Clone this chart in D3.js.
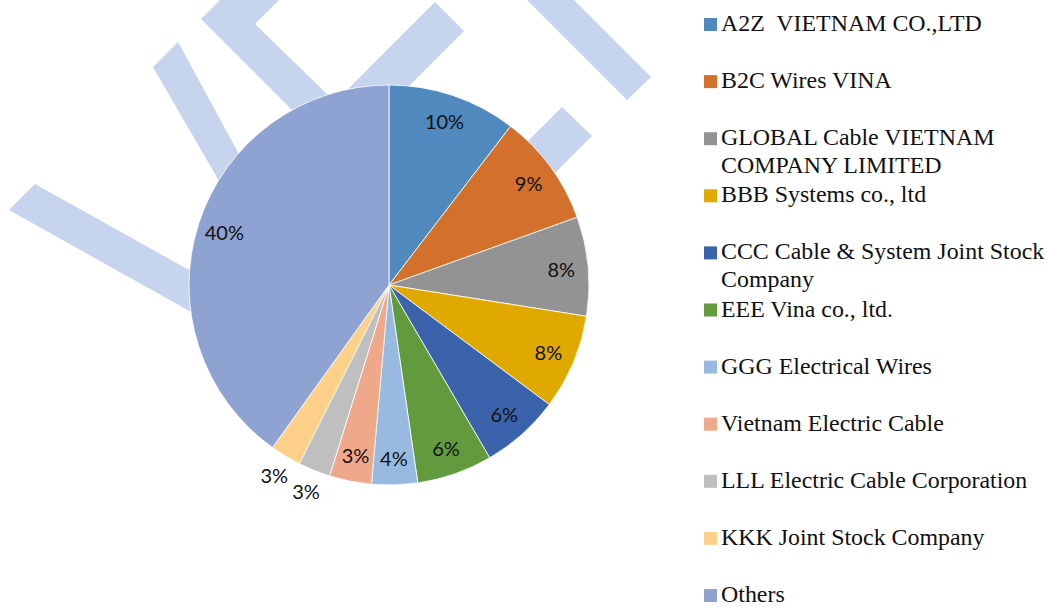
<!DOCTYPE html>
<html>
<head>
<meta charset="utf-8">
<script src="https://cdn.jsdelivr.net/npm/d3@7"></script>
<style>
  html, body { margin: 0; padding: 0; background: #fff; }
  svg { display: block; }
</style>
</head>
<body>
<svg id="chart" width="1047" height="607"></svg>
<script>
// ---------- data ----------
const categories = [
  "A2Z  VIETNAM CO.,LTD",
  "B2C Wires VINA",
  "GLOBAL Cable VIETNAM COMPANY LIMITED",
  "BBB Systems co., ltd",
  "CCC Cable & System Joint Stock Company",
  "EEE Vina co., ltd.",
  "GGG Electrical Wires",
  "Vietnam Electric Cable",
  "LLL Electric Cable Corporation",
  "KKK Joint Stock Company",
  "Others"
];
const shares = [10.4, 9.1, 8.0, 7.7, 6.4, 6.1, 3.7, 3.4, 2.6, 2.5, 40.1];
const colors = [
  "#4f89bd", "#d3702b", "#939393", "#e0a900", "#3b63ac", "#629b3e",
  "#98b9e0", "#f0a88b", "#bfbfbf", "#ffd08a", "#8fa3d3"
];

// decorative watermark bands (background only, not data)
const watermark = [
  [[9,210],[35,184],[300,332],[300,373]],
  [[153,67],[178,42],[291,250],[259,250]],
  [[230,-10],[201,19],[330,148],[368,134],[255,24],[289,-10]],
  [[435,2],[464,31],[345,150],[287,150]],
  [[522,-5],[569,-5],[651,77],[627,100]],
  [[562,107],[592,136],[530,198],[500,169]]
];

// ---------- drawing ----------
const svg = d3.select("#chart");
const cx = 389, cy = 285, R = 200;

svg.append("g").selectAll("polygon")
  .data(watermark).join("polygon")
  .attr("points", d => d.map(p => p.join(",")).join(" "))
  .attr("fill", "#c6d4ed");

const data = categories.map((c, i) => ({ name: c, value: shares[i], color: colors[i] }));
const total = d3.sum(shares);

const pie = d3.pie().sort(null).value(d => d.value).startAngle(0).endAngle(2 * Math.PI);
const arcs = pie(data);
const arc = d3.arc().innerRadius(0).outerRadius(R);

const g = svg.append("g").attr("transform", `translate(${cx},${cy})`);
g.selectAll("path").data(arcs).join("path")
  .attr("d", arc)
  .attr("fill", d => d.data.color)
  .attr("stroke", "#ffffff")
  .attr("stroke-width", 0.8);

const inArc = d3.arc().innerRadius(173).outerRadius(173);
const outArc = d3.arc().innerRadius(222).outerRadius(222);
const fmt = d3.format(".0%");

g.selectAll("text.lbl").data(arcs).join("text")
  .attr("class", "lbl")
  .attr("transform", d => `translate(${(d.data.value < 3 ? outArc : inArc).centroid(d)})`)
  .attr("text-anchor", "middle")
  .attr("dominant-baseline", "central")
  .attr("font-family", "Lato, 'Open Sans', sans-serif")
  .attr("font-size", 20)
  .attr("fill", "#111")
  .text(d => fmt(d.data.value / total));

// ---------- legend ----------
const rowY = d3.scaleLinear().domain([0, categories.length - 1]).range([31, 602]);
const legend = svg.append("g");
const maxW = 340;

data.forEach((d, i) => {
  const y = rowY(i);
  legend.append("rect")
    .attr("x", 704).attr("y", y - 13)
    .attr("width", 13).attr("height", 13)
    .attr("fill", d.color);
  const t = legend.append("text")
    .attr("x", 721).attr("y", y)
    .attr("font-family", "'Liberation Serif', 'Times New Roman', serif")
    .attr("font-size", 23.9)
    .attr("fill", "#111")
    .style("white-space", "pre");
  // simple word wrap
  const words = d.name.split(" ");
  let line = [];
  let tspan = t.append("tspan").attr("x", 721).attr("y", y);
  let lineNo = 0;
  words.forEach(w => {
    line.push(w);
    tspan.text(line.join(" "));
    if (tspan.node().getComputedTextLength() > maxW && line.length > 1) {
      line.pop();
      tspan.text(line.join(" "));
      line = [w];
      lineNo++;
      tspan = t.append("tspan").attr("x", 721).attr("y", y + lineNo * 28).text(w);
    }
  });
});
</script>
</body>
</html>
